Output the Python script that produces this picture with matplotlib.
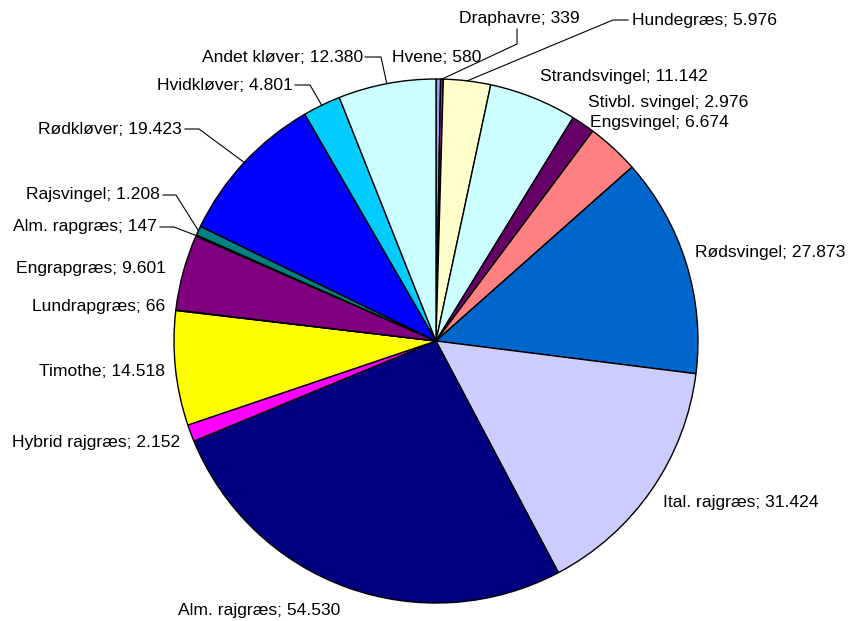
import math

import matplotlib.pyplot as plt

plt.rcParams["font.family"] = ["Liberation Sans", "DejaVu Sans"]

# Data (clockwise from 12 o'clock)
names = [
    "Hvene", "Draphavre", "Hundegræs", "Strandsvingel", "Stivbl. svingel",
    "Engsvingel", "Rødsvingel", "Ital. rajgræs", "Alm. rajgræs",
    "Hybrid rajgræs", "Timothe", "Lundrapgræs", "Engrapgræs",
    "Alm. rapgræs", "Rajsvingel", "Rødkløver", "Hvidkløver", "Andet kløver",
]
values = [
    580, 339, 5976, 11142, 2976, 6674, 27873, 31424, 54530,
    2152, 14518, 66, 9601, 147, 1208, 19423, 4801, 12380,
]
colors = [
    "#9999FF", "#993366", "#FFFFCC", "#CCFFFF", "#660066", "#FF8080",
    "#0066CC", "#CCCCFF", "#000080", "#FF00FF", "#FFFF00", "#00FFFF",
    "#800080", "#800000", "#008080", "#0000FF", "#00CCFF", "#CCFFFF",
]

W, H = 849, 621
CX, CY, R = 436, 341, 262

# label layout in pixel coords: (x, y, ha, leader bend points in px or None)
label_layout = {
    "Hvene": (437, 57, "center", None),
    "Draphavre": (519, 18, "center", [(517, 29), (517, 44)]),
    "Hundegræs": (632, 20, "left", [(628, 20), (613, 20)]),
    "Strandsvingel": (540, 76, "left", None),
    "Stivbl. svingel": (588, 102, "left", None),
    "Engsvingel": (590, 123, "left", None),
    "Rødsvingel": (695, 253, "left", None),
    "Ital. rajgræs": (663, 502, "left", None),
    "Alm. rajgræs": (178, 610, "left", None),
    "Hybrid rajgræs": (180, 443, "right", None),
    "Timothe": (165, 371, "right", None),
    "Lundrapgræs": (165, 306, "right", None),
    "Engrapgræs": (166, 268, "right", None),
    "Alm. rapgræs": (157, 227, "right", [(160, 227), (174, 227)]),
    "Rajsvingel": (160, 195, "right", [(163, 195), (176, 195)]),
    "Rødkløver": (182, 129, "right", [(185, 129), (199, 129)]),
    "Hvidkløver": (293, 85, "right", [(295, 85), (310, 85)]),
    "Andet kløver": (363, 57, "right", [(365, 57), (381, 57)]),
}


def fmt(v):
    return f"{v:,}".replace(",", ".")


fig = plt.figure(figsize=(W / 100, H / 100), dpi=100)
ax = fig.add_axes([0, 0, 1, 1])

wedges, _ = ax.pie(
    values,
    colors=colors,
    startangle=90,
    counterclock=False,
    center=(CX, H - CY),
    radius=R,
    wedgeprops={"edgecolor": "black", "linewidth": 1.0},
    frame=True,
)
ax.set_xlim(0, W)
ax.set_ylim(0, H)
ax.set_aspect("equal")
ax.axis("off")

for wedge, name, val in zip(wedges, names, values):
    x, y, ha, bends = label_layout[name]
    ax.text(x, H - y, f"{name}; {fmt(val)}", ha=ha, va="center",
            fontsize=12.6, color="black")
    if bends:
        mid = math.radians((wedge.theta1 + wedge.theta2) / 2)
        rx = CX + R * math.cos(mid)
        ry = (H - CY) + R * math.sin(mid)
        xs = [p[0] for p in bends] + [rx]
        ys = [H - p[1] for p in bends] + [ry]
        ax.plot(xs, ys, color="black", linewidth=0.8)

fig.savefig("out.png", dpi=100, facecolor="white")
